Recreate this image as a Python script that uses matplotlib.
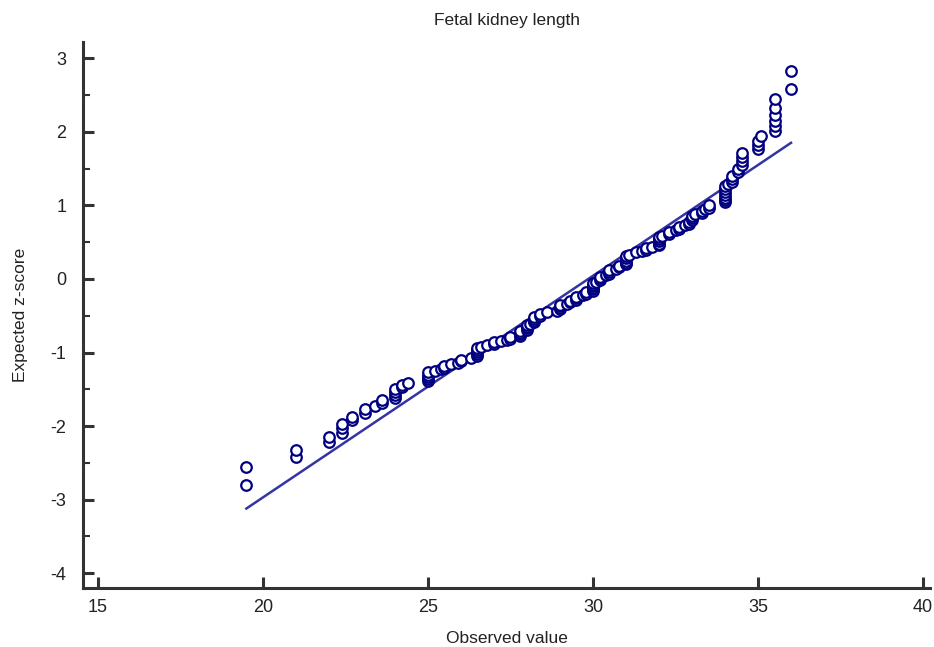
import matplotlib
matplotlib.use("Agg")
import matplotlib.pyplot as plt
from matplotlib.ticker import MultipleLocator

plt.rcParams['font.family'] = ['Liberation Sans', 'DejaVu Sans']
plt.rcParams['axes.unicode_minus'] = False

observed = [19.5, 19.5, 21.0, 21.0, 22.0, 22.0, 22.4, 22.4, 22.4, 22.7, 22.7,
            23.1, 23.1, 23.4, 23.6, 23.6, 24.0, 24.0, 24.0, 24.0, 24.2, 24.2, 24.4,
            25.0, 25.0, 25.0, 25.0, 25.0, 25.2, 25.4, 25.5, 25.5, 25.7, 25.9, 26.0, 26.0, 26.3,
            26.5, 26.5, 26.5, 26.5, 26.5, 26.6, 26.8, 27.0, 27.0, 27.2, 27.4, 27.5, 27.5,
            27.8, 27.8, 27.8, 27.8, 28.0, 28.0, 28.0, 28.0, 28.1, 28.2, 28.2, 28.2, 28.2,
            28.4, 28.4, 28.6, 28.9, 29.0, 29.0, 29.0, 29.0, 29.2, 29.3, 29.3, 29.5, 29.5, 29.5,
            29.7, 29.8, 29.8, 30.0, 30.0, 30.0, 30.0, 30.0, 30.0, 30.1, 30.2, 30.2, 30.2,
            30.4, 30.5, 30.5, 30.5, 30.7, 30.8, 30.8, 31.0, 31.0, 31.0, 31.0, 31.0, 31.1, 31.3,
            31.5, 31.6, 31.6, 31.8, 32.0, 32.0, 32.0, 32.0, 32.0, 32.1, 32.3, 32.3, 32.5, 32.6, 32.6,
            32.8, 32.9, 32.9, 33.0, 33.0, 33.0, 33.1, 33.3, 33.3, 33.4, 33.5, 33.5,
            34.0, 34.0, 34.0, 34.0, 34.0, 34.0, 34.0, 34.1, 34.2, 34.2, 34.2, 34.4, 34.4,
            34.5, 34.5, 34.5, 34.5, 35.0, 35.0, 35.0, 35.1,
            35.5, 35.5, 35.5, 35.5, 35.5, 35.5, 36.0, 36.0]
expected_z = [-2.80, -2.55, -2.42, -2.33, -2.22, -2.15, -2.10, -2.03, -1.97, -1.92, -1.87,
              -1.82, -1.77, -1.72, -1.68, -1.64, -1.62, -1.58, -1.54, -1.50, -1.47, -1.44, -1.41,
              -1.39, -1.36, -1.33, -1.30, -1.27, -1.25, -1.23, -1.21, -1.18, -1.16, -1.14, -1.12, -1.10, -1.07,
              -1.05, -1.02, -0.99, -0.96, -0.94, -0.92, -0.90, -0.88, -0.86, -0.84, -0.83, -0.81, -0.79,
              -0.77, -0.75, -0.73, -0.71, -0.69, -0.67, -0.65, -0.63, -0.61, -0.59, -0.57, -0.55, -0.52,
              -0.50, -0.47, -0.45, -0.43, -0.41, -0.39, -0.37, -0.35, -0.34, -0.32, -0.30, -0.28, -0.26, -0.24,
              -0.22, -0.20, -0.18, -0.16, -0.14, -0.12, -0.10, -0.08, -0.06, -0.04, -0.02, 0.01, 0.03,
              0.05, 0.07, 0.09, 0.12, 0.14, 0.16, 0.18, 0.20, 0.22, 0.25, 0.28, 0.31, 0.33, 0.36,
              0.38, 0.40, 0.42, 0.44, 0.46, 0.48, 0.51, 0.54, 0.57, 0.59, 0.61, 0.64, 0.66, 0.68, 0.71,
              0.73, 0.75, 0.78, 0.80, 0.83, 0.86, 0.88, 0.90, 0.93, 0.95, 0.97, 1.00,
              1.04, 1.07, 1.10, 1.14, 1.18, 1.22, 1.26, 1.29, 1.32, 1.36, 1.40, 1.45, 1.50,
              1.55, 1.60, 1.66, 1.71, 1.76, 1.82, 1.88, 1.94,
              2.01, 2.08, 2.15, 2.23, 2.32, 2.44, 2.58, 2.82]

# Reference (normal) line endpoints
line_x = [19.5, 36.0]
line_z = [-3.12, 1.85]

x_ticks = [15, 20, 25, 30, 35, 40]
y_ticks = [-4, -3, -2, -1, 0, 1, 2, 3]

fig = plt.figure(figsize=(9.34, 6.47), dpi=100)
ax = fig.add_axes([83/934, 59/647, (930-83)/934, (588-42)/647])

navy = '#000080'
ax.plot(line_x, line_z, color='#3434a4', lw=1.8, zorder=2)
ax.plot(observed, expected_z, linestyle='none', marker='o', markersize=7.6,
        markerfacecolor='white', markeredgecolor=navy, markeredgewidth=1.6, zorder=3)

ax.set_xlim(14.55, 40.21)
ax.set_ylim(-4.2, 3.22)
ax.set_xticks(x_ticks)
ax.set_yticks(y_ticks)
ax.yaxis.set_minor_locator(MultipleLocator(0.5))

for s in ['top', 'right']:
    ax.spines[s].set_visible(False)
for s in ['left', 'bottom']:
    ax.spines[s].set_color('#333333')
    ax.spines[s].set_linewidth(2.2)

ax.tick_params(axis='both', which='major', direction='in', length=8, width=2.2,
               color='#333333', labelsize=13, labelcolor='#222222')
ax.tick_params(axis='y', which='minor', direction='in', length=5, width=1.5, color='#333333')
ax.tick_params(axis='y', which='major', pad=12)
ax.tick_params(axis='x', which='major', pad=8)

ax.set_title('Fetal kidney length', fontsize=12.5, color='#222222', pad=12)
ax.set_xlabel('Observed value', fontsize=12.5, color='#222222', labelpad=11)
ax.set_ylabel('Expected z-score', fontsize=12.5, color='#222222', labelpad=16)

fig.savefig('out.png', dpi=100, facecolor='white')
